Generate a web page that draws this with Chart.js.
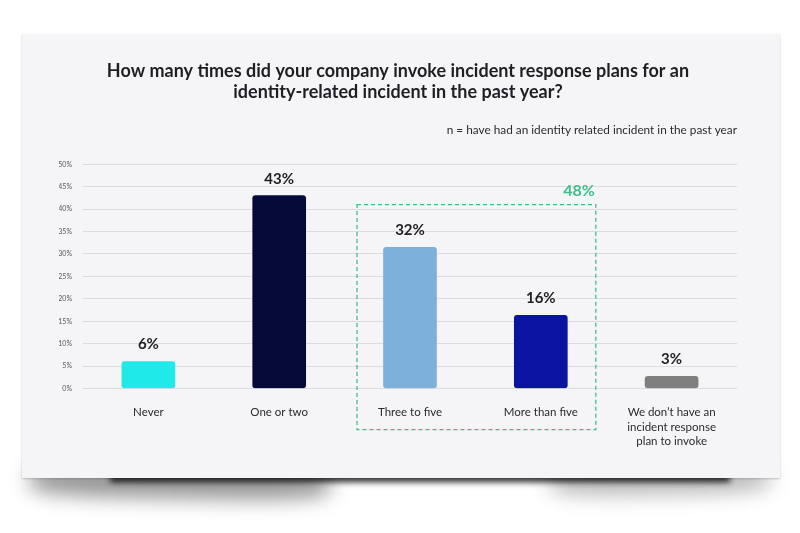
<!DOCTYPE html>
<html>
<head>
<meta charset="utf-8">
<script src="https://cdn.jsdelivr.net/npm/chart.js@4/dist/chart.umd.min.js"></script>
<style>
  html, body { margin: 0; padding: 0; background: #ffffff; width: 800px; height: 533px; overflow: hidden; }
  #card { position: absolute; left: 22px; top: 34px; width: 758px; height: 444px; background: #f5f5f7;
          box-shadow: 0 1px 2px rgba(0,0,0,0.2); z-index: 2; }
  .sh { position: absolute; z-index: 1; }
  #shL { left: 30px; top: 466px; width: 300px; height: 32px; background: rgba(0,0,0,0.42); filter: blur(10px); border-radius: 30%; transform: rotate(1deg); }
  #shR { left: 550px; top: 466px; width: 220px; height: 28px; background: rgba(0,0,0,0.28); filter: blur(10px); border-radius: 30%; transform: rotate(-1deg); }
  #shM { left: 110px; top: 474px; width: 620px; height: 8px; background: rgba(0,0,0,0.85); filter: blur(3px); }
  canvas { position: absolute; left: 0; top: 0; z-index: 3; }
</style>
</head>
<body>
<div id="shL" class="sh"></div>
<div id="shR" class="sh"></div>
<div id="shM" class="sh"></div>
<div id="card"></div>
<canvas id="c" width="800" height="533"></canvas>
<script>
const titleLines = ["How many times did your company invoke incident response plans for an", "identity-related incident in the past year?"];
const subtitleText = "n = have had an identity related incident in the past year";
const categories = ["Never", "One or two", "Three to five", "More than five", ["We don\u2019t have an", "incident response", "plan to invoke"]];
const values = [6, 43, 31.5, 16.3, 2.7];
const valueLabels = ["6%", "43%", "32%", "16%", "3%"];
const barColors = ["#1fe9e9", "#060a38", "#7db0da", "#0a14a0", "#7f7f7f"];
const yMax = 50;
const yStep = 5;
const groupedIndexes = [2, 3];
const groupTotalLabel = "48%";

const FONT = "Lato, 'Open Sans', sans-serif";

const labelPlugin = {
  id: 'valueLabels',
  afterDatasetsDraw(chart) {
    const ctx = chart.ctx;
    const meta = chart.getDatasetMeta(0);
    ctx.save();
    ctx.font = "bold 15px " + FONT;
    ctx.fillStyle = "#1e1e24";
    ctx.textAlign = "center";
    ctx.textBaseline = "middle";
    meta.data.forEach((bar, i) => {
      ctx.fillText(valueLabels[i], bar.x, bar.y - 17);
    });
    ctx.restore();
  }
};

const groupPlugin = {
  id: 'groupBox',
  afterDraw(chart) {
    const ctx = chart.ctx;
    const xs = chart.scales.x, ys = chart.scales.y;
    const left = xs.getPixelForValue(groupedIndexes[0]) - 53;
    const right = xs.getPixelForValue(groupedIndexes[groupedIndexes.length - 1]) + 55;
    const top = ys.getPixelForValue(41);
    const bottom = ys.bottom + 41;
    ctx.save();
    ctx.strokeStyle = "#3dbf8c";
    ctx.lineWidth = 1.3;
    ctx.setLineDash([4, 3]);
    ctx.strokeRect(left, top, right - left, bottom - top);
    ctx.setLineDash([]);
    ctx.font = "bold 16px " + FONT;
    ctx.fillStyle = "#3dbf8c";
    ctx.textAlign = "right";
    ctx.textBaseline = "middle";
    ctx.fillText(groupTotalLabel, right - 1, top - 14);
    ctx.restore();
  }
};

new Chart(document.getElementById('c'), {
  type: 'bar',
  data: {
    labels: categories,
    datasets: [{
      data: values,
      backgroundColor: barColors,
      borderRadius: 3,
      borderSkipped: false,
      barThickness: 53
    }]
  },
  options: {
    responsive: false,
    animation: false,
    devicePixelRatio: 1,
    layout: { padding: { left: 59, right: 63, top: 0, bottom: 75 } },
    plugins: {
      legend: { display: false },
      tooltip: { enabled: false },
      title: {
        display: true,
        text: titleLines,
        color: "#1e1e24",
        font: { family: FONT, size: 18, weight: 'bold', lineHeight: 1.17 },
        padding: { top: 61, bottom: 20 }
      },
      subtitle: {
        display: true,
        text: subtitleText,
        align: 'end',
        color: "#2a2a30",
        font: { family: FONT, size: 11.8, lineHeight: 1.2 },
        padding: { top: 0, bottom: 27 }
      }
    },
    scales: {
      x: {
        grid: { display: false },
        border: { display: false },
        ticks: {
          color: "#2a2a30",
          font: { family: FONT, size: 11.5, lineHeight: 1.26 },
          padding: 9,
          maxRotation: 0,
          autoSkip: false
        }
      },
      y: {
        min: 0,
        max: yMax,
        afterFit(scale) { scale.width = 24; },
        grid: { color: "#dcdce0", lineWidth: 1, drawTicks: false },
        border: { display: false },
        ticks: {
          stepSize: yStep,
          color: "#555560",
          font: { family: FONT, size: 7 },
          padding: 11,
          callback: v => v + "%"
        }
      }
    }
  },
  plugins: [labelPlugin, groupPlugin]
});
</script>
</body>
</html>
